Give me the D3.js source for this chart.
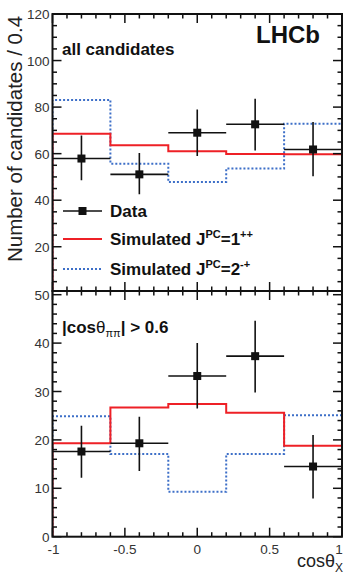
<!DOCTYPE html>
<html>
<head>
<meta charset="utf-8">
<script src="https://cdn.jsdelivr.net/npm/d3@7"></script>
<style>
  body { margin: 0; background: #fff; }
  svg { display: block; }
  text { font-family: "Liberation Sans", Arial, Helvetica, sans-serif; }
</style>
</head>
<body>
<div id="chart"></div>
<script>
// bin edges and centres in cos(theta_X)
const binEdges = [-1, -0.6, -0.2, 0.2, 0.6, 1];
const binCentres = [-0.8, -0.4, 0, 0.4, 0.8];

// top panel: all candidates
const allData = [57.9, 51.1, 69.0, 72.6, 61.8];
const allErrUp = [9.9, 9.2, 10.0, 11.0, 11.8];
const allErrDown = [9.3, 8.5, 10.0, 11.2, 11.5];
const allSim1pp = [68.6, 63.6, 61.0, 59.8, 59.7];
const allSim2mp = [83.1, 55.7, 47.8, 53.6, 72.9];

// bottom panel: |cos theta_pipi| > 0.6
const cutData = [17.6, 19.3, 33.2, 37.3, 14.5];
const cutErrUp = [5.3, 5.5, 6.8, 7.3, 6.5];
const cutErrDown = [5.4, 5.7, 6.7, 7.5, 6.6];
const cutSim1pp = [19.3, 26.7, 27.4, 25.6, 18.8];
const cutSim2mp = [24.9, 17.1, 9.3, 17.1, 25.1];

// major ticks and the ones that get a label
const topTicks = [0, 20, 40, 60, 80, 100, 120];
const topLabels = [20, 40, 60, 80, 100, 120];
const bottomTicks = [0, 10, 20, 30, 40, 50];
const bottomLabels = [0, 10, 20, 30, 40, 50];
const xTicks = [-1, -0.5, 0, 0.5, 1];
const xTickLabels = ["-1", "-0.5", "0", "0.5", "1"];

const W = 344, H = 574;
const left = 52.5, right = 342;
const red = "#ee2026", blue = "#3d6fc8";

var svg = d3.select("#chart").append("svg").attr("width", W).attr("height", H);
var defs = svg.append("defs");

var x = d3.scaleLinear().domain([-1, 1]).range([left, right]);

// panel geometry: frame top/bottom and y scale
var panels = [
    { id: "top", frameTop: 14, frameBot: 291,
      y: d3.scaleLinear().domain([0, 120]).range([293.3, 14]),
      ticks: topTicks, labels: topLabels, minor: 5,
      data: allData, up: allErrUp, down: allErrDown, s1: allSim1pp, s2: allSim2mp },
    { id: "bot", frameTop: 291, frameBot: 536.7,
      y: d3.scaleLinear().domain([0, 50]).range([536.7, 294.7]),
      ticks: bottomTicks, labels: bottomLabels, minor: 2,
      data: cutData, up: cutErrUp, down: cutErrDown, s1: cutSim1pp, s2: cutSim2mp }
];

// step path for a histogram, starting and ending at zero
function histPath(vals, y) {
    let p = d3.path();
    p.moveTo(x(binEdges[0]), y(0));
    vals.forEach(function(v, i) {
        p.lineTo(x(binEdges[i]), y(v));
        p.lineTo(x(binEdges[i + 1]), y(v));
    });
    p.lineTo(x(binEdges[binEdges.length - 1]), y(0));
    return p.toString();
}

panels.forEach(function(pn) {
    let g = svg.append("g");
    let y = pn.y;

    defs.append("clipPath").attr("id", "clip-" + pn.id)
        .append("rect")
        .attr("x", left).attr("y", pn.frameTop)
        .attr("width", right - left).attr("height", pn.frameBot - pn.frameTop);

    let plot = g.append("g").attr("clip-path", `url(#clip-${pn.id})`);

    //simulated histograms
    plot.append("path")
        .attr("d", histPath(pn.s2, y))
        .attr("fill", "none")
        .attr("stroke", blue)
        .attr("stroke-width", 2)
        .attr("stroke-dasharray", "2,2");

    plot.append("path")
        .attr("d", histPath(pn.s1, y))
        .attr("fill", "none")
        .attr("stroke", red)
        .attr("stroke-width", 2);

    //data points with error bars
    let pts = plot.selectAll(".pt").data(pn.data).enter().append("g");
    pts.append("line")
        .attr("x1", (d, i) => x(binEdges[i])).attr("x2", (d, i) => x(binEdges[i + 1]))
        .attr("y1", d => y(d)).attr("y2", d => y(d))
        .attr("stroke", "#111").attr("stroke-width", 1.6);
    pts.append("line")
        .attr("x1", (d, i) => x(binCentres[i])).attr("x2", (d, i) => x(binCentres[i]))
        .attr("y1", (d, i) => y(d + pn.up[i])).attr("y2", (d, i) => y(d - pn.down[i]))
        .attr("stroke", "#111").attr("stroke-width", 1.6);
    pts.append("rect")
        .attr("x", (d, i) => x(binCentres[i]) - 4).attr("y", d => y(d) - 4)
        .attr("width", 8).attr("height", 8)
        .attr("fill", "#111");

    //y ticks, both sides
    let minorVals = d3.range(0, y.domain()[1] + 0.01, pn.minor)
        .filter(v => y(v) >= pn.frameTop - 0.5 && y(v) <= pn.frameBot + 0.5);
    minorVals.forEach(function(v) {
        let len = pn.ticks.includes(v) ? 9 : 4.5;
        g.append("line").attr("x1", left).attr("x2", left + len)
            .attr("y1", y(v)).attr("y2", y(v)).attr("stroke", "#111").attr("stroke-width", 1.5);
        g.append("line").attr("x1", right).attr("x2", right - len)
            .attr("y1", y(v)).attr("y2", y(v)).attr("stroke", "#111").attr("stroke-width", 1.5);
    });

    g.selectAll(".ylab").data(pn.labels).enter().append("text")
        .attr("x", left - 3).attr("y", d => y(d) + 5)
        .attr("text-anchor", "end")
        .attr("font-size", 13.5)
        .attr("fill", "#333")
        .text(d => d);

    //x ticks, top and bottom of each frame
    d3.range(-1, 1.001, 0.1).forEach(function(v) {
        let major = Math.abs(v * 2 - Math.round(v * 2)) < 1e-6;
        let len = major ? 9 : 4.5;
        [[pn.frameBot, -1], [pn.frameTop, 1]].forEach(function(e) {
            g.append("line").attr("x1", x(v)).attr("x2", x(v))
                .attr("y1", e[0]).attr("y2", e[0] + e[1] * len)
                .attr("stroke", "#111").attr("stroke-width", 1.5);
        });
    });

    //frame
    g.append("rect")
        .attr("x", left).attr("y", pn.frameTop)
        .attr("width", right - left).attr("height", pn.frameBot - pn.frameTop)
        .attr("fill", "none").attr("stroke", "#111").attr("stroke-width", 2);
});

// x tick labels under the bottom panel (last one pulled in to stay on the page)
svg.selectAll(".xlab").data(xTicks).enter().append("text")
    .attr("x", d => Math.min(x(d) + (d === -1 ? 1 : 0), W - 5)).attr("y", 554)
    .attr("text-anchor", "middle")
    .attr("font-size", 13.5)
    .attr("fill", "#333")
    .text((d, i) => xTickLabels[i]);

// axis titles
svg.append("text")
    .attr("transform", "translate(22,139) rotate(-90)")
    .attr("text-anchor", "middle")
    .attr("font-size", 20.5)
    .attr("fill", "#222")
    .text("Number of candidates / 0.4");

var xt = svg.append("text")
    .attr("x", 343).attr("y", 567)
    .attr("text-anchor", "end")
    .attr("font-size", 18)
    .attr("fill", "#222");
xt.append("tspan").text("cosθ");
xt.append("tspan").attr("dy", 5).attr("font-size", 12).text("X");

// panel labels
svg.append("text").attr("x", 62).attr("y", 55)
    .attr("font-size", 17).attr("font-weight", "bold").attr("fill", "#111")
    .text("all candidates");

svg.append("text").attr("x", 320).attr("y", 43)
    .attr("text-anchor", "end")
    .attr("font-size", 24).attr("font-weight", "bold").attr("fill", "#111")
    .text("LHCb");

var cl = svg.append("text").attr("x", 62).attr("y", 333)
    .attr("font-size", 17).attr("font-weight", "bold").attr("fill", "#111");
cl.append("tspan").text("|cos");
cl.append("tspan").attr("font-weight", "normal").text("θ");
cl.append("tspan").attr("dy", 4).attr("font-size", 11).attr("font-weight", "normal").text("ππ");
cl.append("tspan").attr("dy", -4).text("| > 0.6");

// legend
var lg = svg.append("g");
lg.append("line").attr("x1", 63).attr("x2", 102).attr("y1", 211).attr("y2", 211)
    .attr("stroke", "#111").attr("stroke-width", 1.6);
lg.append("rect").attr("x", 78.5).attr("y", 207).attr("width", 8).attr("height", 8).attr("fill", "#111");
lg.append("line").attr("x1", 63).attr("x2", 102).attr("y1", 239).attr("y2", 239)
    .attr("stroke", red).attr("stroke-width", 2);
lg.append("line").attr("x1", 63).attr("x2", 102).attr("y1", 269).attr("y2", 269)
    .attr("stroke", blue).attr("stroke-width", 2).attr("stroke-dasharray", "2,2");

lg.append("text").attr("x", 110).attr("y", 217)
    .attr("font-size", 17).attr("font-weight", "bold").attr("fill", "#111").text("Data");

[["1", "++", 245], ["2", "-+", 275]].forEach(function(l) {
    let t = lg.append("text").attr("x", 110).attr("y", l[2])
        .attr("font-size", 17).attr("font-weight", "bold").attr("fill", "#111");
    t.append("tspan").text("Simulated J");
    t.append("tspan").attr("dy", -7).attr("font-size", 11).text("PC");
    t.append("tspan").attr("dy", 7).text("=" + l[0]);
    t.append("tspan").attr("dy", -7).attr("font-size", 11).text(l[1]);
});
</script>
</body>
</html>
